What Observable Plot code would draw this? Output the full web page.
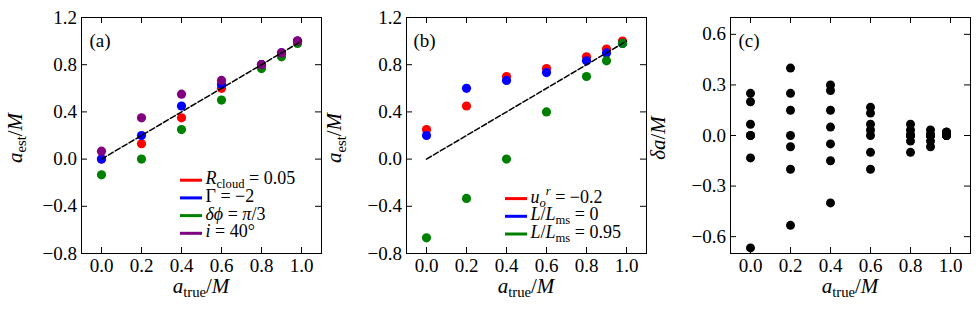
<!DOCTYPE html>
<html><head><meta charset="utf-8">
<script src="https://cdn.jsdelivr.net/npm/d3@7"></script>
<script src="https://cdn.jsdelivr.net/npm/@observablehq/plot@0.6"></script>
<style>
body{margin:0;background:#fff}
#chart{position:relative;width:980px;height:311px;overflow:hidden}
#chart svg{position:absolute;top:0;overflow:visible}
</style>
</head><body><div id="chart"></div>
<script>
// ---------- data ----------
const aTrue = [0, 0.2, 0.4, 0.6, 0.8, 0.9, 0.98];
// panel (a): estimated spin
const estRcloud = [0.0, 0.13, 0.35, 0.60, 0.80, 0.90, 1.00];
const estGamma  = [0.0, 0.20, 0.45, 0.633, 0.80, 0.90, 1.00];
const estDphi   = [-0.133, 0.0, 0.25, 0.50, 0.767, 0.867, 0.98];
const estIncl   = [0.067, 0.35, 0.55, 0.667, 0.80, 0.90, 1.00];
// panel (b)
const estUr     = [0.25, 0.45, 0.70, 0.767, 0.867, 0.933, 1.00];
const estL0     = [0.20, 0.60, 0.667, 0.733, 0.833, 0.90, 0.98];
const estL95    = [-0.667, -0.333, 0.0, 0.40, 0.70, 0.833, 0.98];
// panel (c): delta a
const dRcloud = [0.0, -0.067, -0.05, 0.0, 0.0, 0.0, 0.02];
const dGamma  = [0.0, 0.0, 0.05, 0.033, 0.0, 0.0, 0.02];
const dDphi   = [-0.133, -0.2, -0.15, -0.1, -0.033, -0.033, 0.0];
const dIncl   = [0.067, 0.15, 0.15, 0.067, 0.0, 0.0, 0.02];
const dUr     = [0.25, 0.25, 0.30, 0.167, 0.067, 0.033, 0.02];
const dL0     = [0.20, 0.40, 0.267, 0.133, 0.033, 0.0, 0.0];
const dL95    = [-0.667, -0.533, -0.40, -0.20, -0.10, -0.067, 0.0];

const identityLine = [0, 1];
const xTicks = [0, 0.2, 0.4, 0.6, 0.8, 1.0];
const yTicksEst = [-0.8, -0.4, 0.0, 0.4, 0.8, 1.2];
const yTicksDelta = [-0.6, -0.3, 0.0, 0.3, 0.6];
const seriesA = ["Rcloud", "Gamma", "dphi", "incl"];
const seriesB = ["ur", "L0", "L95"];
const colorsA = ["#ff0000", "#0000ff", "#008000", "#800080"];
const colorsB = ["#ff0000", "#0000ff", "#008000"];

// ---------- layout ----------
const FONT = "'Liberation Serif','DejaVu Serif',serif";
const FS = 19;      // tick labels, panel labels
const FS_LEG = 18;  // legend
const FS_LAB = 21;  // axis labels
const H = 311, SW = 330, MT = 17, MB = 58, ML = 81, MR = 9;
const innerW = SW - ML - MR, innerH = H - MT - MB;
const TICK = 6;
const fmt = d3.format(".1f");

function rows(arrays, names) {
  const out = [];
  arrays.forEach((arr, s) => arr.forEach((v, i) => out.push({x: aTrue[i], y: v, series: names[s]})));
  return out;
}

function frameMarks(yTicks) {
  return [
    Plot.tickX(xTicks, {x: d => d, insetTop: innerH - TICK, stroke: "black"}),
    Plot.tickX(xTicks, {x: d => d, insetBottom: innerH - TICK, stroke: "black"}),
    Plot.tickY(yTicks, {y: d => d, insetRight: innerW - TICK, stroke: "black"}),
    Plot.tickY(yTicks, {y: d => d, insetLeft: innerW - TICK, stroke: "black"}),
    Plot.axisX({ticks: xTicks, tickSize: 0, tickPadding: 5, tickFormat: fmt, label: null, fontSize: FS}),
    Plot.axisY({ticks: yTicks, tickSize: 0, tickPadding: 4.5, tickFormat: fmt, label: null, fontSize: FS}),
    Plot.frame({stroke: "black", strokeWidth: 1})
  ];
}

function rich(g, parts, fs, anchor) {
  const t = g.append("text").attr("font-family", FONT).attr("font-size", fs).attr("fill", "black")
    .attr("text-anchor", anchor || "start");
  let shift = 0;
  for (const p of parts) {
    const target = p.sub ? fs * 0.22 : p.sup ? -fs * 0.4 : 0;
    const ts = t.append("tspan").text(p.t);
    if (p.i) ts.attr("font-style", "italic");
    if (p.sub || p.sup) ts.attr("font-size", fs * 0.7);
    const dy = target - shift;
    if (dy) ts.attr("dy", dy);
    shift = target;
  }
  return t;
}

function legend(svg, entries, colors, lastY) {
  const g = d3.select(svg).append("g");
  const n = entries.length;
  entries.forEach((parts, k) => {
    const y = lastY - (n - 1 - k) * 17.7;
    g.append("line").attr("x1", 180).attr("x2", 202).attr("y1", y).attr("y2", y)
      .attr("stroke", colors[k]).attr("stroke-width", 3);
    rich(g, parts, FS_LEG, "start").attr("x", 205.5).attr("y", y + 4);
  });
}

function axisLabels(svg, xParts, yParts, yLabelX) {
  const g = d3.select(svg).append("g");
  rich(g, xParts, FS_LAB, "middle").attr("x", ML + innerW / 2).attr("y", 292.5);
  rich(g, yParts, FS_LAB, "middle")
    .attr("transform", `translate(${yLabelX},${MT + innerH / 2 + 3}) rotate(-90)`);
}

const xLab = [{t: "a", i: true}, {t: "true", sub: true}, {t: "/"}, {t: "M", i: true}];
const yLabEst = [{t: "a", i: true}, {t: "est", sub: true}, {t: "/"}, {t: "M", i: true}];
const yLabDelta = [{t: "δa", i: true}, {t: "/"}, {t: "M", i: true}];

const chart = document.getElementById("chart");

// ---------- panel (a) ----------
const pa = Plot.plot({
  width: SW, height: H, marginLeft: ML, marginRight: MR, marginTop: MT, marginBottom: MB,
  style: {fontFamily: FONT, fontSize: FS + "px", background: "transparent", color: "black", overflow: "visible"},
  x: {domain: [-0.1, 1.1]}, y: {domain: [-0.8, 1.2]},
  color: {domain: seriesA, range: colorsA},
  marks: [
    Plot.dot(rows([estRcloud, estGamma, estDphi, estIncl], seriesA), {x: "x", y: "y", fill: "series", r: 4.6}),
    Plot.line(identityLine, {x: d => d, y: d => d, stroke: "black", strokeWidth: 1.5, strokeDasharray: "5.6,2.4"}),
    Plot.text(["(a)"], {frameAnchor: "top-left", textAnchor: "start", lineAnchor: "top", dx: 8, dy: 16, fontSize: FS}),
    ...frameMarks(yTicksEst)
  ]
});
pa.style.left = "0px";
chart.appendChild(pa);
legend(pa, [
  [{t: "R", i: true}, {t: "cloud", sub: true}, {t: " = 0.05"}],
  [{t: "Γ = −2"}],
  [{t: "δϕ", i: true}, {t: " = "}, {t: "π", i: true}, {t: "/3"}],
  [{t: "i", i: true}, {t: " = 40°"}]
], colorsA, 233.3);
axisLabels(pa, xLab, yLabEst, 21.5);

// ---------- panel (b) ----------
const pb = Plot.plot({
  width: SW, height: H, marginLeft: ML, marginRight: MR, marginTop: MT, marginBottom: MB,
  style: {fontFamily: FONT, fontSize: FS + "px", background: "transparent", color: "black", overflow: "visible"},
  x: {domain: [-0.1, 1.1]}, y: {domain: [-0.8, 1.2]},
  color: {domain: seriesB, range: colorsB},
  marks: [
    Plot.dot(rows([estUr, estL0, estL95], seriesB), {x: "x", y: "y", fill: "series", r: 4.6}),
    Plot.line(identityLine, {x: d => d, y: d => d, stroke: "black", strokeWidth: 1.5, strokeDasharray: "5.6,2.4"}),
    Plot.text(["(b)"], {frameAnchor: "top-left", textAnchor: "start", lineAnchor: "top", dx: 7, dy: 16, fontSize: FS}),
    ...frameMarks(yTicksEst)
  ]
});
pb.style.left = "325px";
chart.appendChild(pb);
legend(pb, [
  [{t: "u", i: true}, {t: "o", i: true, sub: true}, {t: "r", i: true, sup: true}, {t: " = −0.2"}],
  [{t: "L", i: true}, {t: "/"}, {t: "L", i: true}, {t: "ms", sub: true}, {t: " = 0"}],
  [{t: "L", i: true}, {t: "/"}, {t: "L", i: true}, {t: "ms", sub: true}, {t: " = 0.95"}]
], colorsB, 234);
axisLabels(pb, xLab, yLabEst, 16);

// ---------- panel (c) ----------
const pc = Plot.plot({
  width: SW, height: H, marginLeft: ML, marginRight: MR, marginTop: MT, marginBottom: MB,
  style: {fontFamily: FONT, fontSize: FS + "px", background: "transparent", color: "black", overflow: "visible"},
  x: {domain: [-0.1, 1.1]}, y: {domain: [-0.7, 0.7]},
  marks: [
    Plot.dot(rows([dRcloud, dGamma, dDphi, dIncl, dUr, dL0, dL95], ["1","2","3","4","5","6","7"]), {x: "x", y: "y", fill: "black", r: 4.5}),
    Plot.text(["(c)"], {frameAnchor: "top-left", textAnchor: "start", lineAnchor: "top", dx: 8, dy: 15.5, fontSize: FS}),
    ...frameMarks(yTicksDelta)
  ]
});
pc.style.left = "649px";
chart.appendChild(pc);
axisLabels(pc, xLab, yLabDelta, 16);
</script>
</body></html>
